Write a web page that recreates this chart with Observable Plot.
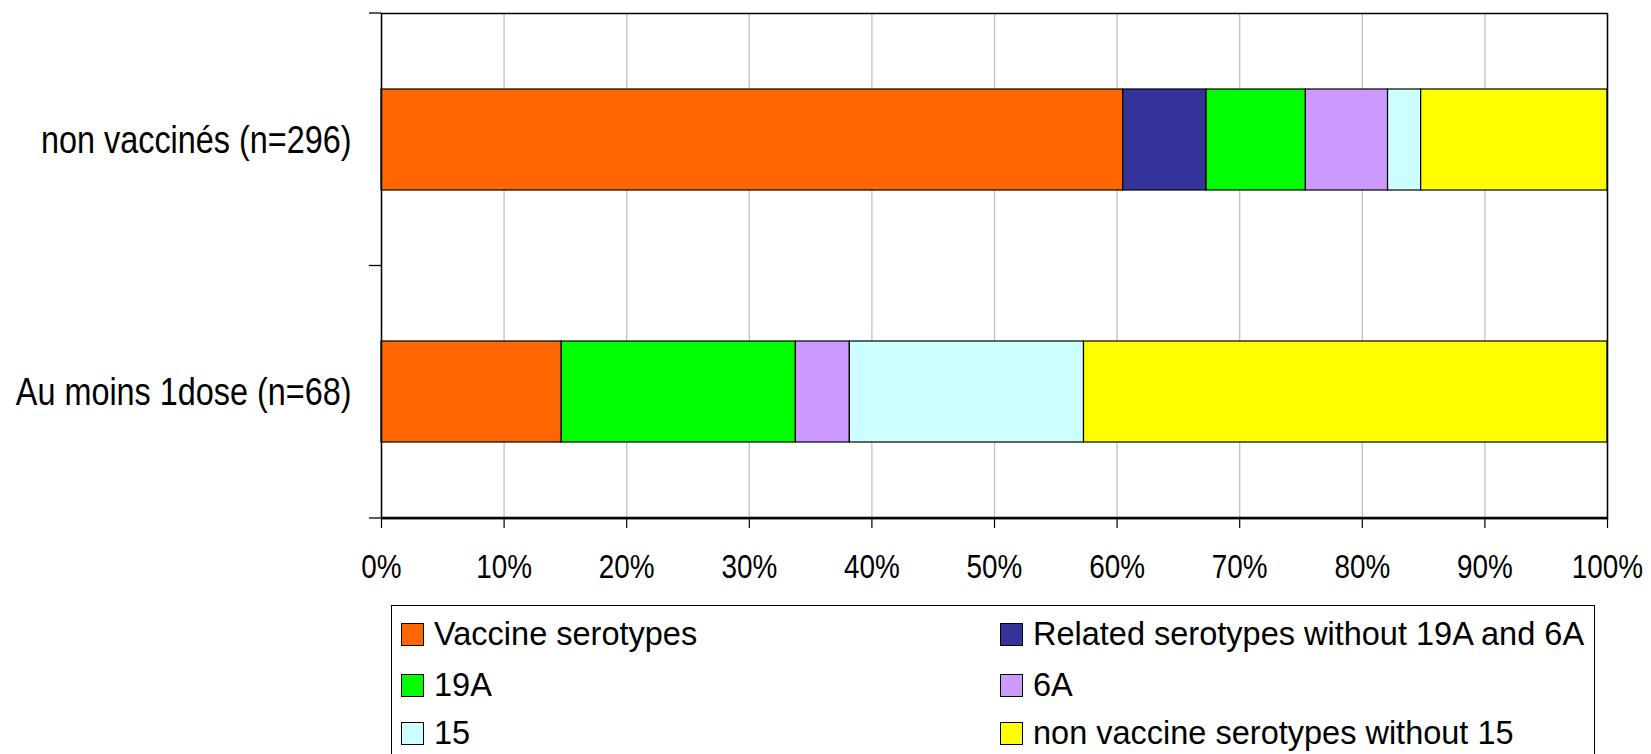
<!DOCTYPE html>
<html>
<head>
<meta charset="utf-8">
<script src="https://cdn.jsdelivr.net/npm/d3@7"></script>
<script src="https://cdn.jsdelivr.net/npm/@observablehq/plot@0.6"></script>
<style>
  html, body { margin: 0; padding: 0; background: #fff; overflow: hidden; }
  #wrap { position: relative; width: 1651px; height: 754px; }
  #legend {
    position: absolute; left: 391px; top: 605px; width: 1204px; height: 200px;
    border: 1.5px solid #000; box-sizing: border-box;
    font-family: "Liberation Sans", Arial, sans-serif; font-size: 32.5px; color: #000;
  }
  .item { position: absolute; height: 40px; display: flex; align-items: center; white-space: nowrap; }
  .sw { width: 23px; height: 23px; border: 1.5px solid #000; box-sizing: border-box; margin-right: 10px; flex: none; }
</style>
</head>
<body>
<div id="wrap"><div id="chart"></div><div id="legend"></div></div>
<script>
// ---- data ----
const groups = ["non vaccinés (n=296)", "Au moins 1dose (n=68)"];
const serotypes = [
  "Vaccine serotypes",
  "Related serotypes without 19A and 6A",
  "19A",
  "6A",
  "15",
  "non vaccine serotypes without 15"
];
const nonVaccines = [60.5, 6.8, 8.1, 6.7, 2.7, 15.2];   // % (n=296)
const auMoins1Dose = [14.7, 0, 19.1, 4.4, 19.1, 42.7];  // % (n=68)
const colors = ["#FF6600", "#333399", "#00FF00", "#CC99FF", "#CCFFFF", "#FFFF00"];
const xTicks = [0, 10, 20, 30, 40, 50, 60, 70, 80, 90, 100];

const seriesByGroup = [nonVaccines, auMoins1Dose];
const rows = [];
groups.forEach((g, gi) => serotypes.forEach((s, si) => rows.push({group: g, serotype: s, value: seriesByGroup[gi][si]})));

const axisFont = '"Liberation Sans", Arial, sans-serif';
const narrowScale = 0.82;   // the reference's axis text is condensed
const tickFontSize = 34;
const catFontSize = 39.5;

// y-axis ticks at band boundaries + bold bottom axis line
const boundaryTicks = (index, scales, values, dim) => {
  const {marginTop, marginBottom, marginLeft, marginRight, width, height} = dim;
  const n = groups.length;
  const step = (height - marginTop - marginBottom) / n;
  const g = d3.create("svg:g");
  for (let k = 0; k <= n; k++) {
    const yy = marginTop + k * step;
    g.append("line").attr("x1", marginLeft - 12).attr("x2", marginLeft)
      .attr("y1", yy).attr("y2", yy).attr("stroke", "#000").attr("stroke-width", 1.3);
  }
  const yb = height - marginBottom;
  g.append("line").attr("x1", marginLeft).attr("x2", width - marginRight)
    .attr("y1", yb).attr("y2", yb).attr("stroke", "#000").attr("stroke-width", 2.5);
  return g.node();
};

const chart = Plot.plot({
  width: 1651,
  height: 600,
  marginLeft: 381,
  marginRight: 44,
  marginTop: 13,
  marginBottom: 82,
  style: {background: "#fff", color: "#000", fontFamily: axisFont},
  x: {domain: [0, 100], label: null},
  y: {domain: groups, paddingInner: 0.6, paddingOuter: 0.3, label: null},
  color: {domain: serotypes, range: colors},
  marks: [
    Plot.gridX(xTicks, {stroke: "#c0c0c0", strokeOpacity: 1, strokeWidth: 1.3}),
    Plot.barX(rows, Plot.stackX({y: "group", x: "value", fill: "serotype", stroke: "#000", strokeWidth: 1.2})),
    Plot.frame({stroke: "#000", strokeWidth: 1.5}),
    boundaryTicks,
    Plot.axisX(xTicks, {tickFormat: d => d + "%", tickSize: 10, tickPadding: 25, fontSize: tickFontSize, fontFamily: axisFont, label: null, strokeWidth: 1.2}),
    Plot.axisY({tickSize: 0, tickPadding: 30, fontSize: catFontSize, fontFamily: axisFont, label: null})
  ]
});
document.getElementById("chart").appendChild(chart);

// condense axis text horizontally, keeping each label's anchor point
chart.querySelectorAll('g[aria-label="x-axis tick label"] text, g[aria-label="y-axis tick label"] text').forEach(t => {
  const tr = t.getAttribute("transform");
  if (tr) {
    t.setAttribute("transform", tr + ` scale(${narrowScale},1)`);
  } else {
    const x = t.getAttribute("x") || 0, y = t.getAttribute("y") || 0;
    t.removeAttribute("x"); t.removeAttribute("y");
    t.setAttribute("transform", `translate(${x},${y}) scale(${narrowScale},1)`);
  }
});

// legend (HTML, below the svg)
const legend = document.getElementById("legend");
const colLeft = [9, 608];
const rowCenter = [28, 79, 127];
serotypes.forEach((s, i) => {
  const item = document.createElement("div");
  item.className = "item";
  item.style.left = colLeft[i % 2] + "px";
  item.style.top = (rowCenter[Math.floor(i / 2)] - 20) + "px";
  const sw = document.createElement("span");
  sw.className = "sw";
  sw.style.background = colors[i];
  const tx = document.createElement("span");
  tx.textContent = s;
  item.appendChild(sw); item.appendChild(tx);
  legend.appendChild(item);
});
</script>
</body>
</html>
